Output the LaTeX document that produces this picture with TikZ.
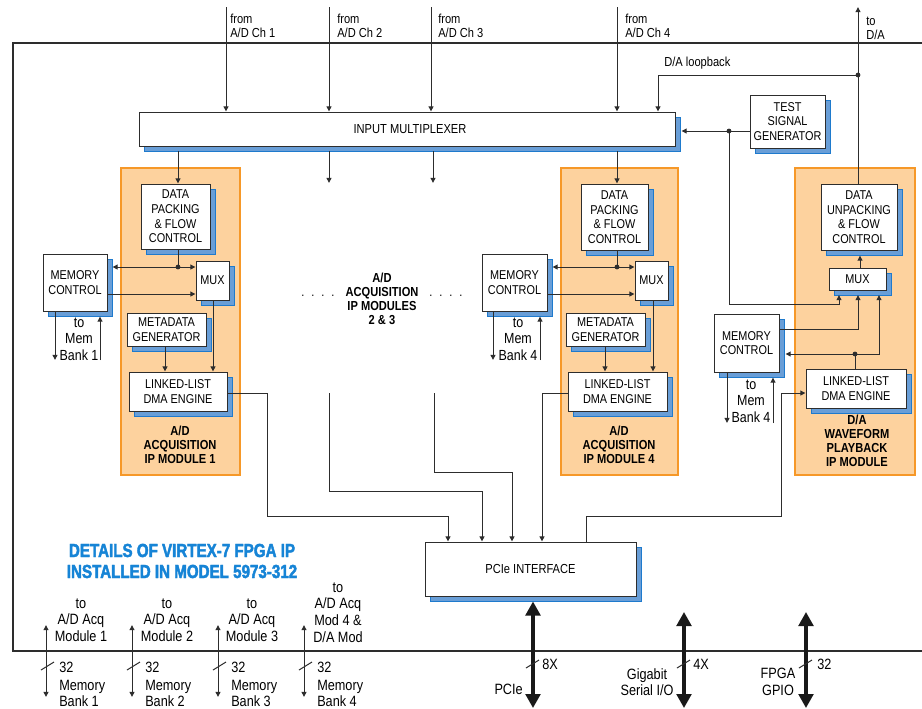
\documentclass[tikz,border=0pt]{standalone}
\usepackage{fontspec}
\setmainfont[FakeStretch=0.85]{Liberation Sans}
\newfontfamily\ttlfont[FakeStretch=0.80, FakeBold=2.2]{Liberation Sans Bold}
\usetikzlibrary{arrows.meta,fit,shadows,calc}
\definecolor{orfill}{RGB}{253,210,158}
\definecolor{ordraw}{RGB}{246,152,40}
\definecolor{shfill}{RGB}{105,158,215}
\definecolor{shdraw}{RGB}{30,122,205}
\definecolor{ttl}{RGB}{22,132,214}
\definecolor{ln}{RGB}{45,45,45}
\tikzset{
  box/.style={draw=ln, fill=white, line width=0.75pt, inner sep=0pt,
    general shadow={shadow xshift=3.75pt, shadow yshift=-3.75pt, fill=shfill, draw=shdraw, line width=0.75pt}},
  boxtxt/.style={font=\fontsize{9.6}{11}\selectfont, align=center, inner sep=0pt},
  sboxtxt/.style={font=\fontsize{9.8}{10.5}\selectfont, align=center, inner sep=0pt},
  modbox/.style={draw=ordraw, fill=orfill, line width=1.1pt, inner sep=0pt},
  wire/.style={draw=ln, line width=0.75pt},
  arr/.style={wire, -{Triangle[length=3.8pt,width=3.6pt]}},
  darr/.style={wire, {Triangle[length=3.8pt,width=3.6pt]}-{Triangle[length=3.8pt,width=3.6pt]}},
  bigarr/.style={draw=black!90, line width=2.4pt, {Triangle[length=10.5pt,width=11pt]}-{Triangle[length=10.5pt,width=11pt]}},
  jdot/.style={circle, fill=ln, inner sep=0pt, minimum size=3.6pt},
  slbl/.style={font=\fontsize{9.8}{10.5}\selectfont, align=left, anchor=west, inner sep=0pt},
  modlbl/.style={font=\bfseries\fontsize{9.8}{10.6}\selectfont, align=center, inner sep=0pt},
  meml/.style={font=\fontsize{11}{12.4}\selectfont, align=center, inner sep=0pt},
  botl/.style={font=\fontsize{11.2}{12.4}\selectfont, inner sep=0pt},
  ttlstyle/.style={font=\ttlfont\fontsize{14.2}{15.75}\selectfont, text=ttl, align=center, inner sep=0pt},
}
\begin{document}
\begin{tikzpicture}[x=0.75pt,y=-0.75pt]
\path[use as bounding box, fill=white] (0,0) rectangle (922,708);
% outer frame
\draw[draw=ln, line width=1pt] (922,43) -- (13,43) -- (13,651) -- (922,651);

% module backgrounds
\node[modbox, fit={(121,168)(240,475)}] (m1) {};
\node[modbox, fit={(561,168)(678,475)}] (m4) {};
\node[modbox, fit={(795,168)(915,475)}] (mda) {};

\node[modlbl] (m1l) at (180,445) {A/D\\ACQUISITION\\IP MODULE 1};
\node[modlbl] (m4l) at (619,445) {A/D\\ACQUISITION\\IP MODULE 4};
\node[modlbl] (mdal) at (857,441) {D/A\\WAVEFORM\\PLAYBACK\\IP MODULE};
\node[modlbl] (midl) at (382,299) {A/D\\ACQUISITION\\IP MODULES\\2 \& 3};
\node[font=\fontsize{9.8}{10.5}\selectfont, inner sep=0pt] (dotsl) at (318,296) {.\hspace{5.2pt}.\hspace{5.2pt}.\hspace{5.2pt}.};
\node[font=\fontsize{9.8}{10.5}\selectfont, inner sep=0pt] (dotsr) at (446,296) {.\hspace{5.2pt}.\hspace{5.2pt}.\hspace{5.2pt}.};

% boxes
\node[box, fit={(139,112)(675,146)}] (imux) {};
\node[sboxtxt] (imuxt) at ($(imux)+(3,0)$) {INPUT MULTIPLEXER};
\node[box, fit={(750,95)(825,148)}] (tsg) {};
\node[boxtxt] (tsgt) at (tsg) {TEST\\SIGNAL\\GENERATOR};

\node[box, fit={(141,184)(210,249)}] (dp1) {};
\node[boxtxt] (dp1t) at (dp1) {DATA\\PACKING\\\& FLOW\\CONTROL};
\node[box, fit={(196,261)(229,300)}] (mux1) {};
\node[boxtxt] (mux1t) at (mux1) {MUX};
\node[box, fit={(43,254)(107,311)}] (mc1) {};
\node[boxtxt] (mc1t) at (mc1) {MEMORY\\CONTROL};
\node[box, fit={(127,313)(206,346)}] (md1) {};
\node[boxtxt] (md1t) at (md1) {METADATA\\GENERATOR};
\node[box, fit={(129,372)(227,411)}] (ll1) {};
\node[boxtxt] (ll1t) at (ll1) {LINKED-LIST\\DMA ENGINE};

\node[box, fit={(581,184)(648,250)}] (dp4) {};
\node[boxtxt] (dp4t) at (dp4) {DATA\\PACKING\\\& FLOW\\CONTROL};
\node[box, fit={(635,261)(668,300)}] (mux4) {};
\node[boxtxt] (mux4t) at (mux4) {MUX};
\node[box, fit={(482,254)(547,311)}] (mc4) {};
\node[boxtxt] (mc4t) at (mc4) {MEMORY\\CONTROL};
\node[box, fit={(566,313)(645,346)}] (md4) {};
\node[boxtxt] (md4t) at (md4) {METADATA\\GENERATOR};
\node[box, fit={(568,372)(667,411)}] (ll4) {};
\node[boxtxt] (ll4t) at (ll4) {LINKED-LIST\\DMA ENGINE};

\node[box, fit={(821,184)(897,250)}] (dup) {};
\node[boxtxt] (dupt) at (dup) {DATA\\UNPACKING\\\& FLOW\\CONTROL};
\node[box, fit={(829,268)(886,290)}] (muxda) {};
\node[boxtxt] (muxdat) at (muxda) {MUX};
\node[box, fit={(714,314)(779,372)}] (mcda) {};
\node[boxtxt] (mcdat) at (mcda) {MEMORY\\CONTROL};
\node[box, fit={(806,369)(906,408)}] (llda) {};
\node[boxtxt] (lldat) at (llda) {LINKED-LIST\\DMA ENGINE};

\node[box, fit={(425,542)(636,596)}] (pcie) {};
\node[sboxtxt] (pciet) at (pcie) {PCIe INTERFACE};

% top inputs
\coordinate (ch1) at (226,7);
\coordinate (ch2) at (329,7);
\coordinate (ch3) at (431,7);
\coordinate (ch4) at (617,7);
\draw[arr] (ch1) -- (ch1 |- imux.north);
\draw[arr] (ch2) -- (ch2 |- imux.north);
\draw[arr] (ch3) -- (ch3 |- imux.north);
\draw[arr] (ch4) -- (ch4 |- imux.north);
\node[slbl] (ch1l) at (230,26) {from\\A/D Ch 1};
\node[slbl] (ch2l) at (337,26) {from\\A/D Ch 2};
\node[slbl] (ch3l) at (438,26) {from\\A/D Ch 3};
\node[slbl] (ch4l) at (625,26) {from\\A/D Ch 4};

% to D/A and loopback
\coordinate (toda) at (858,7);
\coordinate (lbj) at (858,75);
\coordinate (lbk) at (658,75);
\draw[wire] (toda |- dup.north) -- (lbj);
\draw[arr] (lbj) -- (toda);
\draw[arr] (lbj) -- (lbk) -- (lbk |- imux.north);
\node[jdot] (lbjd) at (lbj) {};
\node[slbl] (todal) at (866,28) {to\\D/A};
\node[slbl] (lbl) at (664,63) {D/A loopback};

% test signal generator
\coordinate (tsj) at (729,131);
\coordinate (tsb) at (729,304);
\coordinate (dmi1) at (839,295);
\draw[arr] (tsg.west |- tsj) -- ($(imux.east |- tsj)+(6,0)$);
\draw[arr] (tsj) -- (tsb) -- (tsb -| dmi1) -- (dmi1);
\node[jdot] (tsjd) at (tsj) {};

% multiplexer outputs
\coordinate (o1) at (178,151);
\coordinate (o2) at (329,151);
\coordinate (o2e) at (329,183);
\coordinate (o3) at (433,151);
\coordinate (o3e) at (433,183);
\coordinate (o4) at (617,151);
\draw[arr] (o1) -- (o1 |- dp1.north);
\draw[arr] (o2) -- (o2e);
\draw[arr] (o3) -- (o3e);
\draw[arr] (o4) -- (o4 |- dp4.north);

% module 1 internals
\coordinate (j1) at (178,267);
\coordinate (r1) at (0,294);
\coordinate (a1) at (165,0);
\coordinate (b1) at (213,0);
\draw[wire] (j1 |- dp1.south) -- (j1);
\draw[darr] ($(mc1.east |- j1)+(5,0)$) -- (mux1.west |- j1);
\node[jdot] (j1d) at (j1) {};
\draw[arr] (mc1.east |- r1) -- (mux1.west |- r1);
\draw[arr] (a1 |- md1.south) -- (a1 |- ll1.north);
\draw[arr] (b1 |- mux1.south) -- (b1 |- ll1.north);
\coordinate (mb1a) at (55,360);
\coordinate (mb1b) at (100,360);
\draw[arr] (mb1a |- mc1.south) -- (mb1a);
\draw[arr] (mb1b) -- ($(mb1b |- mc1.south)+(0,5)$);
\node[meml] (mb1l) at (79,339) {to\\Mem\\Bank 1};

% module 4 internals
\coordinate (j4) at (617,267);
\coordinate (a4) at (605,0);
\coordinate (b4) at (653,0);
\draw[wire] (j4 |- dp4.south) -- (j4);
\draw[darr] ($(mc4.east |- j4)+(5,0)$) -- (mux4.west |- j4);
\node[jdot] (j4d) at (j4) {};
\draw[arr] (mc4.east |- r1) -- (mux4.west |- r1);
\draw[arr] (a4 |- md4.south) -- (a4 |- ll4.north);
\draw[arr] (b4 |- mux4.south) -- (b4 |- ll4.north);
\coordinate (mb4a) at (493,360);
\coordinate (mb4b) at (540,360);
\draw[arr] (mb4a |- mc4.south) -- (mb4a);
\draw[arr] (mb4b) -- ($(mb4b |- mc4.south)+(0,5)$);
\node[meml] (mb4l) at (518,339) {to\\Mem\\Bank 4};

% D/A internals
\coordinate (dux) at (860,0);
\coordinate (dmi2) at (858,295);
\coordinate (dmr) at (0,329);
\coordinate (jda) at (855,354);
\coordinate (dmi3) at (879,295);
\draw[arr] (dux |- muxda.north) -- ($(dux |- dup.south)+(0,5)$);
\draw[arr] (mcda.east |- dmr) -- (dmi2 |- dmr) -- (dmi2);
\draw[arr] (jda) -- (dmi3 |- jda) -- (dmi3);
\draw[arr] (jda) -- ($(mcda.east |- jda)+(6,0)$);
\draw[wire] (jda |- llda.north) -- (jda);
\node[jdot] (jdad) at (jda) {};
\coordinate (mbda) at (727,423);
\coordinate (mbdb) at (773,423);
\draw[arr] (mbda |- mcda.south) -- (mbda);
\draw[arr] (mbdb) -- ($(mbdb |- mcda.south)+(0,5)$);
\node[meml] (mbdl) at (751,401) {to\\Mem\\Bank 4};

% to PCIe
\coordinate (p1) at (267,393);
\coordinate (p1b) at (267,516);
\coordinate (p1c) at (448,516);
\draw[arr] (ll1.east |- p1) -- (p1) -- (p1b) -- (p1c) -- (p1c |- pcie.north);
\coordinate (q2) at (329,393);
\coordinate (q2b) at (329,491);
\coordinate (q2c) at (482,491);
\draw[arr] (q2) -- (q2b) -- (q2c) -- (q2c |- pcie.north);
\coordinate (q3) at (434,393);
\coordinate (q3b) at (434,472);
\coordinate (q3c) at (512,472);
\draw[arr] (q3) -- (q3b) -- (q3c) -- (q3c |- pcie.north);
\coordinate (p4) at (542,393);
\draw[arr] (ll4.west |- p4) -- (p4) -- (p4 |- pcie.north);
\coordinate (pd) at (586,516);
\coordinate (pdb) at (781,516);
\coordinate (pdc) at (781,393);
\draw[arr] (pd |- pcie.north) -- (pd) -- (pdb) -- (pdc) -- (llda.west |- pdc);

% big external arrows
\coordinate (pcx) at (533,708);
\coordinate (gbx) at (684,708);
\coordinate (gbt) at (684,612);
\coordinate (gpx) at (806,708);
\coordinate (gpt) at (806,612);
\draw[bigarr] ($(pcx |- pcie.south)+(0,5)$) -- (pcx);
\draw[bigarr] (gbt) -- (gbx);
\draw[bigarr] (gpt) -- (gpx);
\draw[wire] (526,668) -- (539,660);
\draw[wire] (677,668) -- (690,660);
\draw[wire] (799,668) -- (812,660);
\node[botl, anchor=west] (l8x) at (542,664) {8X};
\node[botl, anchor=east] (lpcie) at (523,689) {PCIe};
\node[botl, anchor=west] (l4x) at (693,664) {4X};
\node[botl, align=center] (lgb) at (647,682) {Gigabit\\Serial I/O};
\node[botl, anchor=west] (l32) at (817,664) {32};
\node[botl, align=center] (lgp) at (778,682) {FPGA\\GPIO};

% memory bank arrows at bottom
\foreach \x/\n/\c [count=\i] in {46/1/81, 132/2/167, 218/3/252} {
  \coordinate (bt\i) at (\x,625);
  \coordinate (bb\i) at (\x,697);
  \draw[darr] (bt\i) -- (bb\i);
  \draw[wire] ($(bt\i)+(-5,45)$) -- ($(bt\i)+(8,37)$);
  \node[botl, anchor=west] (b32\i) at (\x+13,667) {32};
  \node[botl, anchor=west, align=left] (bml\i) at (\x+13,693.5) {Memory\\Bank \n};
  \node[botl, align=center] (bul\i) at (\c,620) {to\\A/D Acq\\Module \n};
}
\coordinate (bt4) at (304,625);
\coordinate (bb4) at (304,697);
\draw[darr] (bt4) -- (bb4);
\draw[wire] ($(bt4)+(-5,45)$) -- ($(bt4)+(8,37)$);
\node[botl, anchor=west] (b324) at (317,667) {32};
\node[botl, anchor=west, align=left] (bml4) at (317,693.5) {Memory\\Bank 4};
\node[botl, align=center] (bul4) at (338,612.5) {to\\A/D Acq\\Mod 4 \&\\D/A Mod};

% title
\node[ttlstyle] (title) at (182,561) {DETAILS OF VIRTEX-7 FPGA IP\\INSTALLED IN MODEL 5973-312};
\end{tikzpicture}
\end{document}
